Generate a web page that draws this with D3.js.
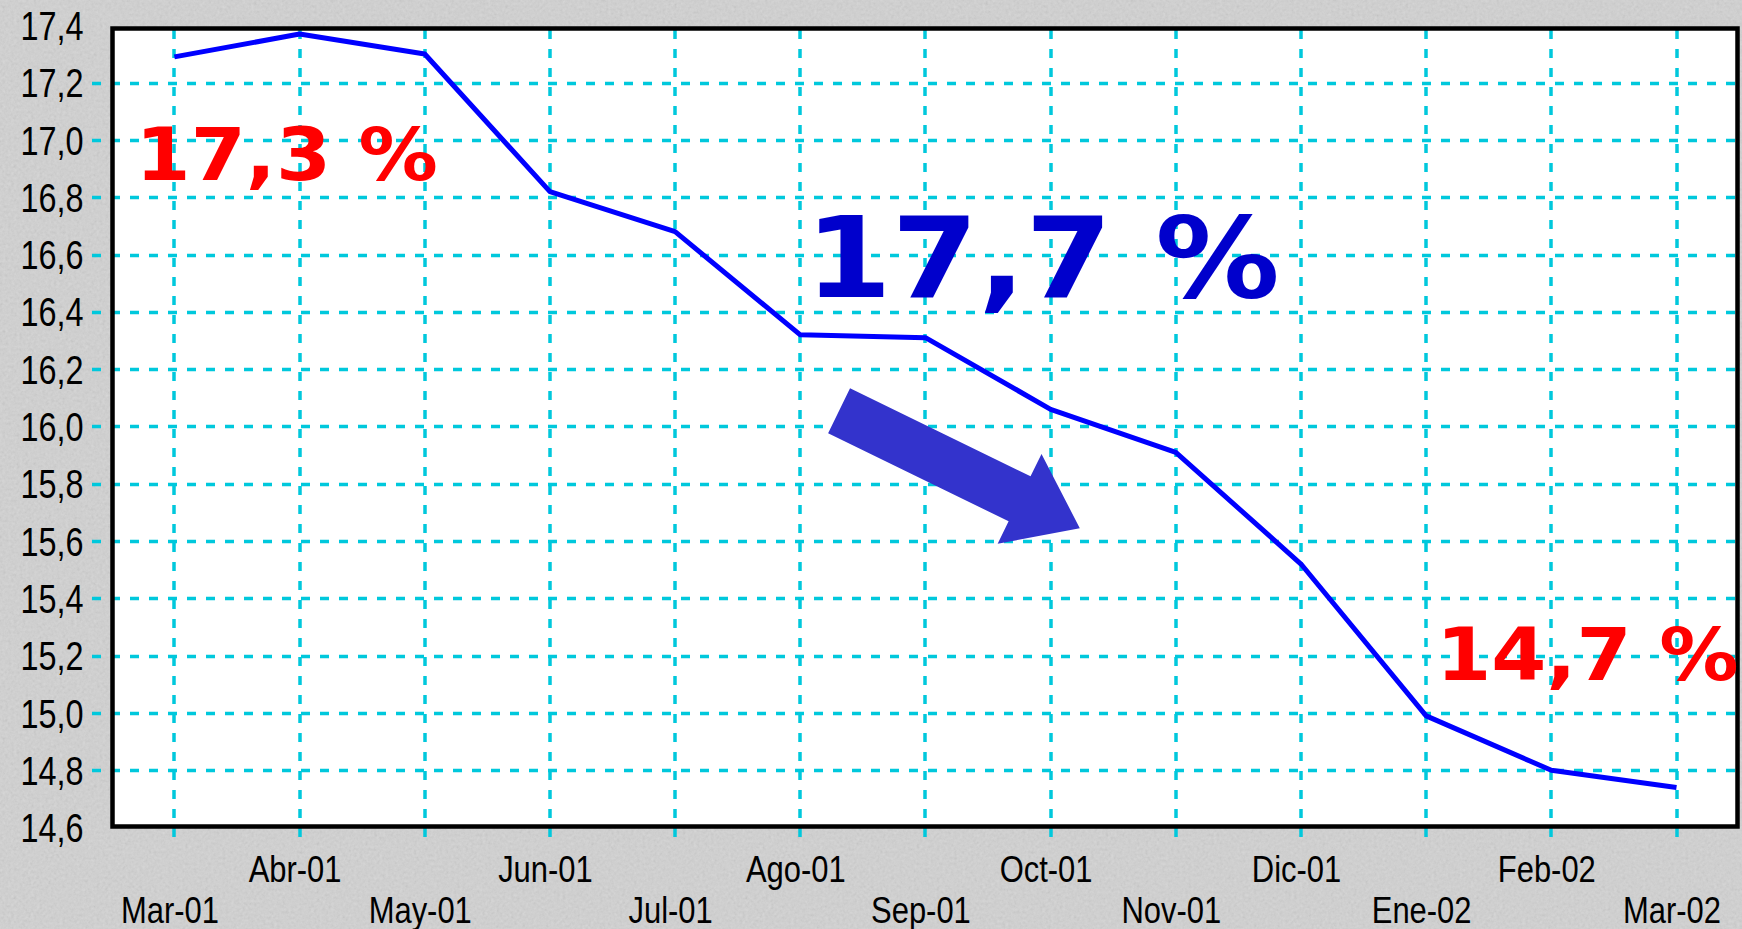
<!DOCTYPE html>
<html>
<head>
<meta charset="utf-8">
<script src="https://cdn.jsdelivr.net/npm/d3@7"></script>
<style>
  html, body { margin: 0; padding: 0; background: #d4d4d4; }
  svg { display: block; }
</style>
</head>
<body>
<svg id="chart" width="1742" height="929"></svg>
<script>
// ---- data ----
const months = ["Mar-01","Abr-01","May-01","Jun-01","Jul-01","Ago-01","Sep-01","Oct-01","Nov-01","Dic-01","Ene-02","Feb-02","Mar-02"];
const values = [17.29, 17.37, 17.30, 16.82, 16.68, 16.32, 16.31, 16.06, 15.91, 15.52, 14.99, 14.80, 14.74];
const yTicks = [14.6, 14.8, 15.0, 15.2, 15.4, 15.6, 15.8, 16.0, 16.2, 16.4, 16.6, 16.8, 17.0, 17.2, 17.4];
const gridValues = [14.8, 15.0, 15.2, 15.4, 15.6, 15.8, 16.0, 16.2, 16.4, 16.6, 16.8, 17.0, 17.2];
const labelTexts = ["17,3 %", "17,7 %", "14,7 %"];

// ---- layout ----
const W = 1742, H = 929;
const frame = {left: 112.5, right: 1737.5, top: 28.5, bottom: 826.5};
const svg = d3.select("#chart");

const x = d3.scaleLinear().domain([0, 12]).range([174.4, 1676.5]);
const y = d3.scaleLinear().domain([14.6, 17.4]).range([827.6, 25.4]);

// background with subtle granite texture
const defs = svg.append("defs");
const f = defs.append("filter").attr("id", "noise").attr("x", 0).attr("y", 0).attr("width", "100%").attr("height", "100%");
f.append("feTurbulence").attr("type", "fractalNoise").attr("baseFrequency", 0.35).attr("numOctaves", 3).attr("seed", 7);
f.append("feColorMatrix").attr("type", "matrix")
  .attr("values", "0.33 0.33 0.33 0 0  0.33 0.33 0.33 0 0  0.33 0.33 0.33 0 0  0 0 0 0 1");
svg.append("rect").attr("width", W).attr("height", H).attr("fill", "#d4d4d4");
svg.append("rect").attr("width", W).attr("height", H).attr("filter", "url(#noise)").attr("opacity", 0.18);

// plot area
svg.append("rect")
  .attr("x", frame.left).attr("y", frame.top)
  .attr("width", frame.right - frame.left).attr("height", frame.bottom - frame.top)
  .attr("fill", "#ffffff");

// grid
const gridColor = "#00c8dc";
svg.append("g").selectAll("line").data(gridValues).join("line")
  .attr("x1", 92).attr("x2", frame.right)
  .attr("y1", d => Math.round(y(d)) + 0.5).attr("y2", d => Math.round(y(d)) + 0.5)
  .attr("stroke", gridColor).attr("stroke-width", 3.5).attr("stroke-dasharray", "9,10");
svg.append("g").selectAll("line").data(d3.range(months.length)).join("line")
  .attr("x1", d => Math.round(x(d))).attr("x2", d => Math.round(x(d)))
  .attr("y1", 30).attr("y2", 842)
  .attr("stroke", gridColor).attr("stroke-width", 3.5).attr("stroke-dasharray", "9,10");

// frame
svg.append("rect")
  .attr("x", frame.left).attr("y", frame.top)
  .attr("width", frame.right - frame.left).attr("height", frame.bottom - frame.top)
  .attr("fill", "none").attr("stroke", "#000").attr("stroke-width", 4.5);

// y axis
const fmt = d => d3.format(".1f")(d).replace(".", ",");
const yAxis = svg.append("g").attr("transform", `translate(${frame.left},0)`)
  .call(d3.axisLeft(y).tickValues(yTicks).tickFormat(fmt).tickSize(0).tickPadding(0));
yAxis.select(".domain").remove();
yAxis.selectAll("text")
  .attr("x", 0).attr("dy", "0.35em")
  .attr("transform", "translate(-29,0) scale(0.81,1)")
  .attr("font-family", "'Liberation Sans', Arial, sans-serif")
  .attr("font-size", 40).attr("fill", "#000");

// x axis
const xAxis = svg.append("g").attr("transform", `translate(0,${frame.bottom})`)
  .call(d3.axisBottom(x).tickValues(d3.range(months.length)).tickFormat(i => months[i]).tickSize(0).tickPadding(0));
xAxis.select(".domain").remove();
xAxis.selectAll("text")
  .attr("y", 0).attr("dy", 0)
  .attr("transform", (d, i) => `translate(-5,${i % 2 === 0 ? 96 : 55.5}) scale(0.825,1)`)
  .attr("font-family", "'Liberation Sans', Arial, sans-serif")
  .attr("font-size", 37.5).attr("fill", "#000");

// data line
const line = d3.line().x((d, i) => x(i)).y(d => y(d)).curve(d3.curveLinear);
svg.append("path").datum(values)
  .attr("d", line)
  .attr("fill", "none").attr("stroke", "#0000ff").attr("stroke-width", 5)
  .attr("stroke-linejoin", "round");

// annotation labels
function bigLabel(text, mx, v, size, color, sx) {
  svg.append("text")
    .attr("transform", `translate(${x(mx)},${y(v)}) scale(${sx},1)`)
    .attr("font-family", "'DejaVu Sans', Verdana, sans-serif")
    .attr("font-weight", "bold")
    .attr("font-size", size)
    .attr("fill", color)
    .text(text);
}
bigLabel(labelTexts[0], -0.31, 16.861, 73, "#ff0000", 1.085);
bigLabel(labelTexts[1], 5.04, 16.453, 112, "#0000cc", 1.11);
bigLabel(labelTexts[2], 10.08, 15.116, 73, "#ff0000", 1.085);

// downward arrow
(function arrow() {
  const tail = [x(5.31), y(16.055)], tip = [x(7.233), y(15.645)];
  const shaftW = 50, headW = 100, headL = 67;
  const dx = tip[0] - tail[0], dy = tip[1] - tail[1];
  const L = Math.hypot(dx, dy), ux = dx / L, uy = dy / L, px = -uy, py = ux;
  const base = [tip[0] - ux * headL, tip[1] - uy * headL];
  const pts = [
    [tail[0] - px * shaftW / 2, tail[1] - py * shaftW / 2],
    [base[0] - px * shaftW / 2, base[1] - py * shaftW / 2],
    [base[0] - px * headW / 2, base[1] - py * headW / 2],
    tip,
    [base[0] + px * headW / 2, base[1] + py * headW / 2],
    [base[0] + px * shaftW / 2, base[1] + py * shaftW / 2],
    [tail[0] + px * shaftW / 2, tail[1] + py * shaftW / 2]
  ];
  svg.append("polygon").attr("points", pts.map(p => p.join(",")).join(" ")).attr("fill", "#3333cc");
})();
</script>
</body>
</html>
